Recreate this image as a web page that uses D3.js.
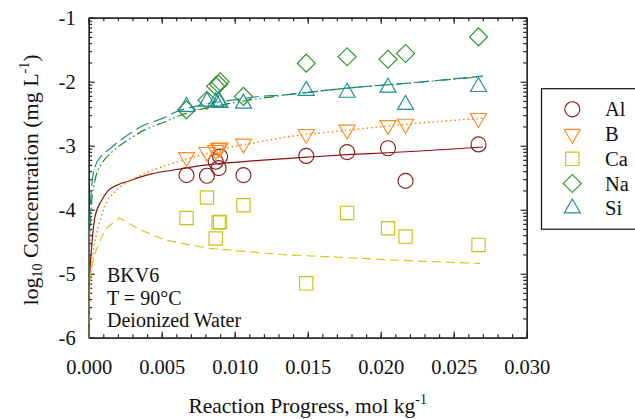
<!DOCTYPE html>
<html><head><meta charset="utf-8">
<script src="https://cdn.jsdelivr.net/npm/d3@7"></script>
<style>
body{margin:0;background:#fff;}
</style></head>
<body><svg id="c" width="635" height="419"></svg>
<script>
// sample reaction progress (mol/kg)
const sampleX = [0.0067,0.0081,0.0087,0.0089,0.0090,0.0106,0.0149,0.0177,0.0205,0.0217,0.0267];
// measured log10 concentrations
const Al = [-3.46,-3.47,-3.25,-3.35,-3.17,-3.46,-3.16,-3.10,-3.04,-3.55,-2.98];
const B  = [-3.18,-3.10,-3.07,-3.04,-3.03,-2.97,-2.82,-2.75,-2.68,-2.66,-2.57];
const Ca = [-4.13,-3.81,-4.45,-4.20,-4.19,-3.93,-5.15,-4.05,-4.29,-4.42,-4.55];
const Na = [-2.44,-2.29,-2.07,-2.04,-2.00,-2.23,-1.71,-1.61,-1.65,-1.56,-1.30];
const Si = [-2.39,-2.31,-2.32,-2.31,-2.33,-2.34,-2.14,-2.17,-2.09,-2.36,-2.08];
// model curves [x, log10 conc]
const modelAl = [[0,-6],[0.00003,-5.3],[0.0001,-4.9],[0.0002,-4.58],[0.00043,-4.11],[0.0009,-3.85],[0.0013,-3.71],[0.002,-3.61],[0.0029,-3.54],[0.0035,-3.49],[0.0043,-3.44],[0.0058,-3.38],[0.0081,-3.30],[0.0117,-3.23],[0.0149,-3.18],[0.0177,-3.14],[0.0205,-3.11],[0.027,-3.02]];
const modelB = [[0,-6],[0.0001,-5.2],[0.0003,-4.7],[0.00066,-4.27],[0.0011,-3.95],[0.0018,-3.72],[0.0025,-3.59],[0.0034,-3.48],[0.0043,-3.39],[0.0058,-3.27],[0.0081,-3.12],[0.009,-3.06],[0.0117,-2.94],[0.0131,-2.88],[0.0177,-2.76],[0.022,-2.66],[0.027,-2.57]];
const modelCa = [[0,-6],[0.00003,-5.4],[0.0001,-5.0],[0.00043,-4.68],[0.0009,-4.42],[0.0013,-4.27],[0.0021,-4.13],[0.0027,-4.21],[0.0036,-4.32],[0.0052,-4.47],[0.0058,-4.50],[0.0081,-4.60],[0.0117,-4.67],[0.0131,-4.70],[0.0177,-4.75],[0.0222,-4.80],[0.0268,-4.84]];
const modelNa = [[0,-6],[0.00005,-4.6],[0.0002,-3.90],[0.00043,-3.54],[0.0009,-3.28],[0.0015,-3.12],[0.002,-3.02],[0.0027,-2.91],[0.0036,-2.78],[0.0052,-2.63],[0.0067,-2.49],[0.0085,-2.39],[0.0104,-2.31],[0.0131,-2.22],[0.0177,-2.10],[0.022,-2.02],[0.027,-1.92]];
const modelSi = [[0,-6],[0.00005,-4.4],[0.0002,-3.64],[0.00043,-3.33],[0.0009,-3.15],[0.0015,-3.04],[0.002,-2.94],[0.0027,-2.83],[0.0036,-2.70],[0.0052,-2.56],[0.0058,-2.49],[0.0076,-2.37],[0.0104,-2.27],[0.0117,-2.23],[0.0131,-2.21],[0.0177,-2.10],[0.022,-2.02],[0.027,-1.91]];
const xTicks = [0,0.005,0.010,0.015,0.020,0.025,0.030];
const yTicks = [-6,-5,-4,-3,-2,-1];
const elements = ["Al","B","Ca","Na","Si"];
const annotation = ["BKV6","T = 90°C","Deionized Water"];

const FONT = "'Liberation Serif'";
const svg = d3.select("#c");
const L=88.7, R=526.7, T=17.7, Bt=337.7;
const x = d3.scaleLinear().domain([0,0.03]).range([L,R]);
const y = d3.scaleLinear().domain([-6,-1]).range([Bt,T]);

const xMinor = d3.range(0,31).map(i=>i/1000);
const yMinor = [];
for(let d=-6; d<-1; d++) for(let k=2;k<=9;k++) yMinor.push(d+Math.log10(k));

const styles = {
  Al:{color:"#8e1d1d", line:"#8b1010", dash:null, sym:"circle", data:Al, model:modelAl},
  B:{color:"#ff8a22", line:"#ff8000", dash:"1.4,3", sym:"tridown", data:B, model:modelB},
  Ca:{color:"#c8c414", line:"#cfcc1e", dash:"9,5", sym:"square", data:Ca, model:modelCa},
  Na:{color:"#2a922a", line:"#1f8a1f", dash:"10,3,1.6,3,1.6,3", sym:"diamond", data:Na, model:modelNa},
  Si:{color:"#228e8e", line:"#1a8a8a", dash:"14,5", sym:"triup", data:Si, model:modelSi}
};
function symPath(s){
  if(s==="circle") return d3.symbol(d3.symbolCircle, 177)();
  if(s==="square") return d3.symbol(d3.symbolSquare, 177)();
  if(s==="diamond") return d3.symbol(d3.symbolSquare, 162)();
  return d3.symbol(d3.symbolTriangle, 112)();
}
function symRot(s){ return s==="diamond"?45:(s==="tridown"?180:0); }

function styleAxis(g){
  g.attr("font-family", null).attr("font-size", null);
  g.selectAll("path,line").attr("stroke","#222").attr("stroke-width",1.2);
  g.selectAll("text").style("font-family",FONT).style("font-size","20.5px").attr("fill","#111");
}
svg.append("g").attr("transform",`translate(0,${Bt})`).call(d3.axisBottom(x).tickValues(xMinor).tickSize(-3.5).tickSizeOuter(0).tickFormat("")).call(styleAxis);
svg.append("g").attr("transform",`translate(0,${Bt})`).call(d3.axisBottom(x).tickValues(xTicks).tickSize(-6).tickSizeOuter(0).tickPadding(21.5).tickFormat(d3.format(".3f"))).call(styleAxis);
svg.append("g").attr("transform",`translate(0,${T})`).call(d3.axisTop(x).tickValues(xMinor).tickSize(-3.5).tickSizeOuter(0).tickFormat("")).call(styleAxis);
svg.append("g").attr("transform",`translate(0,${T})`).call(d3.axisTop(x).tickValues(xTicks).tickSize(-6).tickSizeOuter(0).tickFormat("")).call(styleAxis);
svg.append("g").attr("transform",`translate(${L},0)`).call(d3.axisLeft(y).tickValues(yMinor).tickSize(-3.5).tickSizeOuter(0).tickFormat("")).call(styleAxis);
svg.append("g").attr("transform",`translate(${L},0)`).call(d3.axisLeft(y).tickValues(yTicks).tickSize(-6).tickSizeOuter(0).tickPadding(13).tickFormat(d=>String(d))).call(styleAxis);
svg.append("g").attr("transform",`translate(${R},0)`).call(d3.axisRight(y).tickValues(yMinor).tickSize(-3.5).tickSizeOuter(0).tickFormat("")).call(styleAxis);
svg.append("g").attr("transform",`translate(${R},0)`).call(d3.axisRight(y).tickValues(yTicks).tickSize(-6).tickSizeOuter(0).tickFormat("")).call(styleAxis);

svg.append("clipPath").attr("id","pc").append("rect").attr("x",L).attr("y",T).attr("width",R-L).attr("height",Bt-T);
elements.forEach(e=>{
  const st = styles[e];
  const line = d3.line().x(d=>x(d[0])).y(d=>y(d[1])).curve(e==="Ca"?d3.curveLinear:d3.curveMonotoneX);
  svg.append("path").attr("d",line(st.model)).attr("fill","none").attr("stroke",st.line)
    .attr("stroke-width",e==="B"?1.5:1.2).attr("stroke-dasharray",st.dash).attr("clip-path","url(#pc)");
});
elements.forEach(e=>{
  const st = styles[e];
  svg.append("g").selectAll("path").data(sampleX.map((v,i)=>[v,st.data[i]])).join("path")
    .attr("d",symPath(st.sym))
    .attr("transform",d=>`translate(${x(d[0])},${y(d[1])}) rotate(${symRot(st.sym)})`)
    .attr("fill","none").attr("stroke",st.color).attr("stroke-width",1.15);
});

function txt(sel, size){ return sel.style("font-family",FONT).style("font-size",(size||20)+"px").attr("fill","#111"); }
svg.append("g").selectAll("text").data(annotation).join("text")
  .attr("x",107).attr("y",(d,i)=>[281.5,304.5,326.5][i]).call(txt).text(d=>d);

const xt = svg.append("text").attr("x",(L+R)/2).attr("y",412.5).attr("text-anchor","middle").call(txt, 21.5);
xt.append("tspan").text("Reaction Progress, mol kg");
xt.append("tspan").style("font-size","14px").attr("dy",-8.5).text("-1");
const yt = svg.append("text").attr("transform","translate(37.5,180) rotate(-90)").attr("text-anchor","middle").call(txt, 22);
yt.append("tspan").text("log");
yt.append("tspan").style("font-size","14px").attr("dy",4).text("10");
yt.append("tspan").attr("dy",-4).text(" Concentration (mg L");
yt.append("tspan").style("font-size","14px").attr("dy",-8.5).text("-1");
yt.append("tspan").attr("dy",8.5).text(")");

svg.append("rect").attr("x",541.5).attr("y",88.7).attr("width",120).attr("height",140.5)
  .attr("fill","#fff").attr("stroke","#111").attr("stroke-width",1.2);
const lg = svg.append("g").selectAll("g").data(elements).join("g")
  .attr("transform",(d,i)=>`translate(0,${109.3+i*24.75})`);
lg.append("path").attr("d",d=>symPath(styles[d].sym))
  .attr("transform",d=>`translate(572.3,0) rotate(${symRot(styles[d].sym)})`)
  .attr("fill","none").attr("stroke",d=>styles[d].color).attr("stroke-width",1.15);
lg.append("text").attr("x",605).attr("y",7).call(txt, 20.5).text(d=>d);
</script></body></html>
